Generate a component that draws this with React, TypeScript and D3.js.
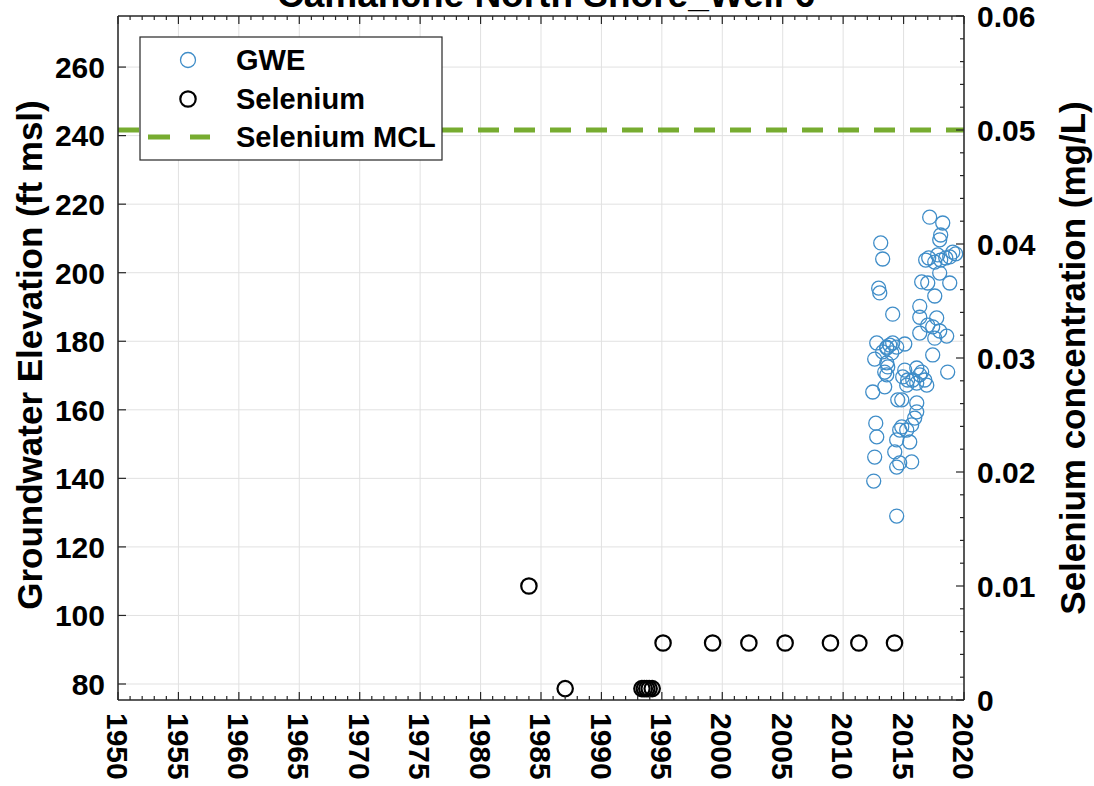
import React from "react";
import * as d3 from "d3";

const TITLE = "Camanche North Shore_Well 6";
const Y_LEFT_LABEL = "Groundwater Elevation (ft msl)";
const Y_RIGHT_LABEL = "Selenium concentration (mg/L)";

const xTicks = [1950, 1955, 1960, 1965, 1970, 1975, 1980, 1985, 1990, 1995, 2000, 2005, 2010, 2015, 2020];
const yLeftTicks = [80, 100, 120, 140, 160, 180, 200, 220, 240, 260];
const yRightTicks = [0, 0.01, 0.02, 0.03, 0.04, 0.05, 0.06];
const yRightTickLabels = ["0", "0.01", "0.02", "0.03", "0.04", "0.05", "0.06"];

const gweYear = [
  2017.16, 2018.24, 2018.07, 2017.99, 2013.11, 2013.27, 2019.07, 2019.31, 2018.82, 2016.83,
  2017.08, 2017.58, 2018.07, 2018.49, 2017.82, 2016.5, 2017.0, 2017.99, 2018.82, 2017.58,
  2012.94, 2013.03, 2014.1, 2016.34, 2016.34, 2017.74, 2017.41, 2017.0, 2016.34, 2017.58,
  2018.57, 2017.99, 2012.78, 2013.61, 2014.1, 2015.1, 2014.43, 2013.85, 2013.61, 2013.27,
  2014.02, 2012.61, 2013.61, 2013.69, 2013.44, 2013.61, 2017.41, 2018.65, 2015.1, 2016.09,
  2016.5, 2014.93, 2015.34, 2015.76, 2016.75, 2016.09, 2015.26, 2016.34, 2016.92, 2013.44,
  2012.45, 2014.52, 2014.85, 2016.09, 2016.09, 2015.92, 2015.67, 2012.7, 2012.78, 2014.85,
  2015.26, 2014.68, 2014.43, 2015.51, 2014.27, 2012.61, 2015.67, 2014.68, 2014.43, 2012.53,
  2014.43,
];
const gweValue = [
  216.2, 214.5, 211.0, 209.6, 208.7, 204.0, 206.0, 205.5, 204.6, 203.7,
  204.3, 203.1, 203.7, 204.3, 205.2, 197.3, 197.0, 199.9, 197.0, 193.2,
  195.5, 194.1, 187.9, 190.2, 187.0, 186.8, 184.2, 184.7, 182.4, 180.9,
  181.5, 183.0, 179.5, 178.3, 179.5, 179.2, 178.3, 178.9, 178.0, 176.9,
  176.6, 174.8, 173.7, 172.5, 171.0, 170.2, 176.0, 171.0, 171.6, 172.2,
  171.0, 169.6, 168.7, 168.7, 168.7, 167.8, 167.2, 170.2, 167.2, 166.7,
  165.2, 162.9, 162.9, 162.0, 159.4, 157.6, 155.6, 156.1, 152.1, 155.0,
  154.1, 154.1, 151.2, 150.6, 147.7, 146.2, 144.8, 144.5, 143.3, 139.2,
  129.0,
];

const seYear = [1984.0, 1987.0, 1993.35, 1993.55, 1993.75, 1993.95, 1994.2, 1995.1, 1999.2, 2002.2, 2005.2, 2008.95, 2011.3, 2014.25];
const seValue = [0.01, 0.001, 0.001, 0.001, 0.001, 0.001, 0.001, 0.005, 0.005, 0.005, 0.005, 0.005, 0.005, 0.005];

const MCL = 0.05;
const legendLabels = ["GWE", "Selenium", "Selenium MCL"];

const W = 1094;
const H = 786;
const L = 118, R = 964, T = 16, B = 700;
const FONT = "'Liberation Sans', Arial, Helvetica, sans-serif";
const AX = "#262626";
const GWE_COLOR = "#3f8dc8";
const MCL_COLOR = "#77AC30";
const GRID = "#e1e1e1";

export default function App() {
  const x = d3.scaleLinear().domain([1950, 2020]).range([L, R]);
  const yL = d3.scaleLinear().domain([75.33, 274.9]).range([B, T]);
  const yR = d3.scaleLinear().domain([0, 0.06]).range([B, T]);

  const minorX = d3.range(1950, 2021, 1).filter((v) => v % 5 !== 0);
  const minorR = d3.range(0, 0.0601, 0.002).filter((v) => Math.abs(v / 0.01 - Math.round(v / 0.01)) > 1e-6);

  const lx = 140, ly = 37, lw = 302, lh = 123;
  const legendY = [60, 99, 137];

  return (
    <svg width={W} height={H} style={{ position: "absolute", left: 0, top: 0, background: "#fff" }} fontFamily={FONT}>
      <rect x={0} y={0} width={W} height={H} fill="#fff" />
      {/* grid */}
      <g stroke={GRID} strokeWidth={1}>
        {xTicks.map((t) => (
          <line key={"gx" + t} x1={x(t)} x2={x(t)} y1={T} y2={B} />
        ))}
        {yLeftTicks.map((t) => (
          <line key={"gy" + t} x1={L} x2={R} y1={yL(t)} y2={yL(t)} />
        ))}
      </g>

      {/* MCL line */}
      <line x1={L} x2={R} y1={yR(MCL)} y2={yR(MCL)} stroke={MCL_COLOR} strokeWidth={5} strokeDasharray="21 15" />

      {/* GWE */}
      <g fill="none" stroke={GWE_COLOR} strokeWidth={1.3}>
        {gweYear.map((yr, i) => (
          <circle key={"g" + i} cx={x(yr)} cy={yL(gweValue[i])} r={7} />
        ))}
      </g>

      {/* Selenium */}
      <g fill="none" stroke="#000" strokeWidth={2.2}>
        {seYear.map((yr, i) => (
          <circle key={"s" + i} cx={x(yr)} cy={yR(seValue[i])} r={7.7} />
        ))}
      </g>

      {/* axes box */}
      <g stroke={AX} strokeWidth={1.5} fill="none">
        <line x1={L} x2={R} y1={T} y2={T} />
        <line x1={L} x2={R} y1={B} y2={B} />
        <line x1={L} x2={L} y1={T} y2={B} />
        <line x1={R} x2={R} y1={T} y2={B} />
      </g>
      {/* ticks */}
      <g stroke={AX} strokeWidth={1.2}>
        {xTicks.map((t) => (
          <g key={"tx" + t}>
            <line x1={x(t)} x2={x(t)} y1={B} y2={B - 8} />
            <line x1={x(t)} x2={x(t)} y1={T} y2={T + 8} />
          </g>
        ))}
        {minorX.map((t) => (
          <g key={"mx" + t}>
            <line x1={x(t)} x2={x(t)} y1={B} y2={B - 4} />
            <line x1={x(t)} x2={x(t)} y1={T} y2={T + 4} />
          </g>
        ))}
        {yLeftTicks.map((t) => (
          <line key={"ty" + t} x1={L} x2={L + 8} y1={yL(t)} y2={yL(t)} />
        ))}
        {yRightTicks.map((t) => (
          <line key={"tr" + t} x1={R} x2={R - 8} y1={yR(t)} y2={yR(t)} />
        ))}
        {minorR.map((t, i) => (
          <line key={"mr" + i} x1={R} x2={R - 4} y1={yR(t)} y2={yR(t)} />
        ))}
      </g>

      {/* tick labels */}
      <g fontSize={30} fontWeight="bold" fill="#000">
        {yLeftTicks.map((t) => (
          <text key={"ly" + t} x={105} y={yL(t)} dy="0.36em" textAnchor="end">
            {t}
          </text>
        ))}
        {yRightTicks.map((t, i) => (
          <text key={"ry" + t} x={977} y={yR(t)} dy="0.36em" textAnchor="start">
            {yRightTickLabels[i]}
          </text>
        ))}
        {xTicks.map((t) => (
          <text key={"lx" + t} transform={`translate(${x(t)},${713}) rotate(90)`} dy="0.36em" textAnchor="start">
            {t}
          </text>
        ))}
      </g>

      {/* axis labels */}
      <text transform={`translate(42,355) rotate(-90)`} textAnchor="middle" fontSize={35} fontWeight="bold">
        {Y_LEFT_LABEL}
      </text>
      <text transform={`translate(1085,358) rotate(-90)`} textAnchor="middle" fontSize={35} fontWeight="bold">
        {Y_RIGHT_LABEL}
      </text>

      {/* title */}
      <text x={546} y={7} textAnchor="middle" fontSize={37} fontWeight="bold">
        {TITLE}
      </text>

      {/* legend */}
      <rect x={lx} y={ly} width={lw} height={lh} fill="#fff" stroke={AX} strokeWidth={1.2} />
      <circle cx={188} cy={legendY[0]} r={7.5} fill="none" stroke={GWE_COLOR} strokeWidth={1.3} />
      <circle cx={188} cy={legendY[1]} r={7.7} fill="none" stroke="#000" strokeWidth={2.2} />
      <line x1={148} x2={210} y1={legendY[2]} y2={legendY[2]} stroke={MCL_COLOR} strokeWidth={5} strokeDasharray="22 20" />
      <g fontSize={29} fontWeight="bold">
        {legendLabels.map((s, i) => (
          <text key={s} x={236} y={legendY[i]} dy="0.36em">
            {s}
          </text>
        ))}
      </g>
    </svg>
  );
}
